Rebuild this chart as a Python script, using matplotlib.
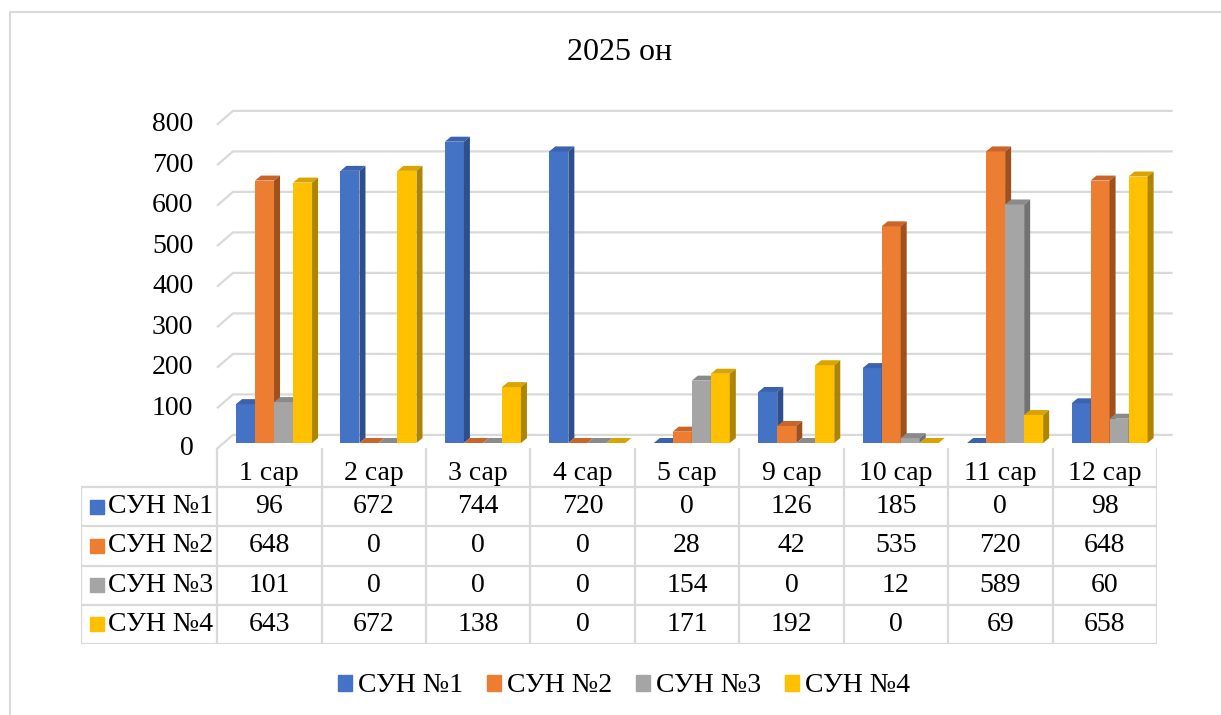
import matplotlib
matplotlib.use('Agg')
import matplotlib.pyplot as plt
from matplotlib.patches import Polygon, Rectangle, Patch
from matplotlib.transforms import ScaledTranslation

plt.rcParams['font.family'] = ['Liberation Serif', 'DejaVu Serif']

months = ['1 сар', '2 сар', '3 сар', '4 сар', '5 сар', '9 сар', '10 сар', '11 сар', '12 сар']
sun1 = [96, 672, 744, 720, 0, 126, 185, 0, 98]
sun2 = [648, 0, 0, 0, 28, 42, 535, 720, 648]
sun3 = [101, 0, 0, 0, 154, 0, 12, 589, 60]
sun4 = [643, 672, 138, 0, 171, 192, 0, 69, 658]
names = ['СУН №1', 'СУН №2', 'СУН №3', 'СУН №4']
yticks = [0, 100, 200, 300, 400, 500, 600, 700, 800]

series = [sun1, sun2, sun3, sun4]
front = ['#4472C4', '#ED7D31', '#A5A5A5', '#FFC000']
top = ['#3A62AE', '#C9652A', '#8A8A8A', '#D9A300']
side = ['#2E4F8C', '#9E511D', '#727272', '#AD8500']
grid_c = '#d9d9d9'

W, H = 1221, 715
fig = plt.figure(figsize=(W / 100, H / 100), dpi=100)

# chart border (cut off on the right / bottom like the source)
fig.patches.append(Rectangle((10 / W, -0.1), 1.2, (1 - 12 / H) + 0.1,
                             transform=fig.transFigure, fill=False,
                             ec=grid_c, lw=1.5))

fig.text(620 / W, 1 - 52 / H, '2025 он', ha='center', va='center', fontsize=23)

# main plot area (front plane of the 3D bars)
ax = fig.add_axes([217 / W, 1 - 443 / H, 940 / W, 324 / H])
ax.set_xlim(0, 9)
ax.set_ylim(0, 800)
ax.set_facecolor('none')
for s in ax.spines.values():
    s.set_visible(False)
ax.set_xticks([])
ax.set_yticks(yticks)
ax.tick_params(axis='y', length=0, pad=17, labelsize=20)
for lab in ax.get_yticklabels():
    lab.set_transform(lab.get_transform() + ScaledTranslation(0, -3 / 100, fig.dpi_scale_trans))

# back wall gridlines with a short oblique piece on the left wall
for v in yticks:
    ax.plot([0, 0.153, 9.15], [v - 14, v + 20, v + 20], color=grid_c, lw=1.6,
            zorder=1, clip_on=False, solid_capstyle='butt')

w = 0.182
dx = 0.0575
dy = 12.3
for j, vals in enumerate(series):
    xs = [i + 0.546 + (j - 2) * w for i in range(len(months))]
    ax.bar(xs, vals, width=w, align='edge', color=front[j], zorder=3 + j,
           clip_on=False)
    for x0, v in zip(xs, vals):
        ax.add_patch(Polygon([(x0, v), (x0 + w, v), (x0 + w + dx, v + dy), (x0 + dx, v + dy)],
                             closed=True, fc=top[j], ec='none', zorder=3 + j, clip_on=False))
        ax.add_patch(Polygon([(x0 + w, 0), (x0 + w, v), (x0 + w + dx, v + dy), (x0 + w + dx, dy)],
                             closed=True, fc=side[j], ec='none', zorder=3 + j, clip_on=False))

# data table under the chart
tax = fig.add_axes([81 / W, 1 - 644 / H, (1157 - 81) / W, 196 / H])
tax.set_xlim(-1.303, 9)
tax.set_ylim(5, 0)
tax.axis('off')
tax.hlines([1, 2, 3, 4, 5], -1.303, 9, color=grid_c, lw=1.6)
tax.vlines(range(10), 0, 5, color=grid_c, lw=1.6)
tax.vlines(-1.303, 1, 5, color=grid_c, lw=1.6)

for i, m in enumerate(months):
    tax.text(i + 0.5, 0.64, m, ha='center', va='center', fontsize=20)
for r, vals in enumerate(series):
    tax.plot(-1.154, r + 1.5, marker='s', ms=9.5, color=front[r], ls='none')
    tax.text(-1.04, r + 1.5, names[r], ha='left', va='center', fontsize=20)
    for i, v in enumerate(vals):
        tax.text(i + 0.5, r + 1.5, str(v), ha='center', va='center', fontsize=20)

handles = [Patch(color=c) for c in front]
fig.legend(handles, names, loc='center', bbox_to_anchor=(624 / W, 1 - 686 / H),
           ncol=4, frameon=False, fontsize=20, handlelength=0.5, handleheight=0.5,
           handletextpad=0.22, columnspacing=0.86)

fig.savefig('out.png', dpi=100)
